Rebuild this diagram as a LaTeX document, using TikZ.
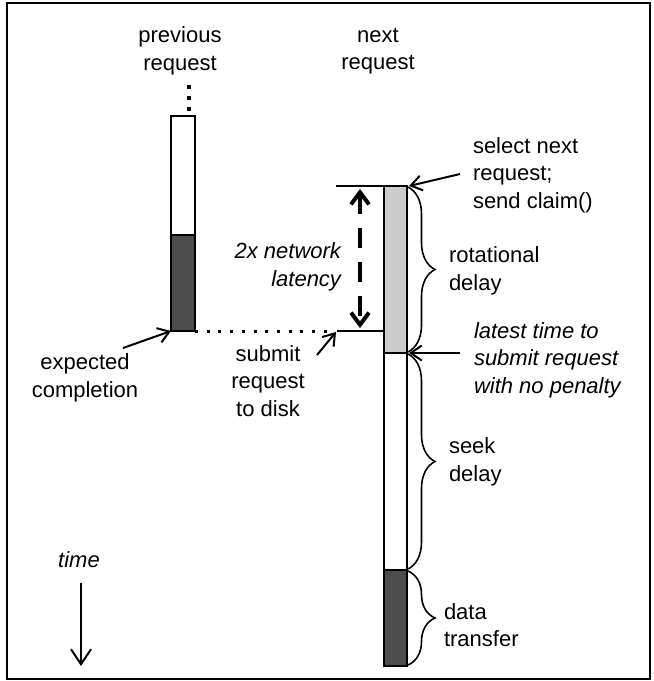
\documentclass[tikz,border=0pt]{standalone}
\usepackage{fontspec}
\setmainfont{Liberation Sans}
\usetikzlibrary{arrows.meta,decorations.pathreplacing}
\definecolor{DiskGray}{HTML}{CCCCCC}
\definecolor{DiskDark}{HTML}{4D4D4D}
\newcommand\lblsize{\fontsize{22}{27.5}\selectfont}

\begin{document}
\begin{tikzpicture}[x=1pt,y=-1pt,line width=2pt,font=\lblsize,
    lbl/.style={inner sep=0pt,align=left,anchor=west},
    ctext/.style={inner sep=0pt,align=center},
    slanted/.style={font=\lblsize\itshape},
    bar/.style={draw=black,line width=2pt},
    pointer/.style={-{Straight Barb[length=11pt,width=15pt]}},
    curly/.style={decorate,decoration={brace,amplitude=27pt},line width=1.6pt}]
  \useasboundingbox (0,0) rectangle (654,681);
  \draw (7,3) rectangle (650,679);
  % previous request
  \draw[bar,fill=white] (171,116) rectangle (195,235);
  \draw[bar,fill=DiskDark] (171,235) rectangle (195,331);
  \draw[line width=4pt,dash pattern=on 4pt off 7pt] (189,85) -- (189,112);
  \coordinate (prevEnd) at (171,331);
  \coordinate (prevR) at (195,331);
  % next request
  \draw[bar,fill=DiskGray] (384,186) rectangle (407,353);
  \draw[bar,fill=white] (384,353) rectangle (407,570);
  \draw[bar,fill=DiskDark] (384,570) rectangle (407,666);
  \coordinate (nxTop) at (384,186);
  \coordinate (nxSub) at (384,331);
  \coordinate (rTop) at (409,186);
  \coordinate (rLate) at (409,353);
  \coordinate (tickTop) at (336,186);
  \coordinate (tickSub) at (337,331);
  \draw (tickTop) -- (nxTop);
  \draw (tickSub) -- (nxSub);
  \draw[line width=3pt,dash pattern=on 3pt off 8.7pt] (prevR) -- (331,331);
  \draw[line width=4pt,dash pattern=on 20pt off 14pt,
    {Straight Barb[length=12pt,width=18pt]}-{Straight Barb[length=12pt,width=18pt]}]
    (360,189) -- (360,328);
  % braces
  \draw[curly] (408,187) -- (408,352);
  \draw[curly] (408,354) -- (408,569);
  \draw[curly] (408,571) -- (408,665);
  % labels
  \node[ctext] (prevLbl) at (180,51) {previous\\request};
  \node[ctext] (nextLbl) at (378,51) {next\\request};
  \node[lbl] (claimLbl) at (472,175) {select next\\request;\\send claim()};
  \node[lbl] (rotLbl) at (448,271) {rotational\\delay};
  \node[lbl,slanted] (lateLbl) at (473,360) {latest time to\\submit request\\with no penalty};
  \node[lbl] (seekLbl) at (448,462) {seek\\delay};
  \node[lbl] (xferLbl) at (443,625) {data\\transfer};
  \node[ctext,slanted,align=right,anchor=east] (netLbl) at (342,267) {2x network\\latency};
  \node[ctext] (subLbl) at (268,381) {submit\\request\\to disk};
  \node[ctext] (expLbl) at (85,378) {expected\\completion};
  \node[ctext,slanted] (timeLbl) at (79,560) {time};
  % pointers
  \coordinate (claimTail) at (460,174);
  \coordinate (lateTail) at (460,353);
  \coordinate (subTail) at (317,355);
  \coordinate (subTip) at (336,332);
  \coordinate (expTail) at (123,348);
  \coordinate (timeA) at (81,583);
  \coordinate (timeB) at (81,666);
  \draw[pointer] (claimTail) -- (rTop);
  \draw[pointer] (lateTail) -- (rLate);
  \draw[pointer] (subTail) -- (subTip);
  \draw[pointer] (expTail) -- (prevEnd);
  \draw[-{Straight Barb[length=15pt,width=20pt]}] (timeA) -- (timeB);
\end{tikzpicture}
\end{document}
